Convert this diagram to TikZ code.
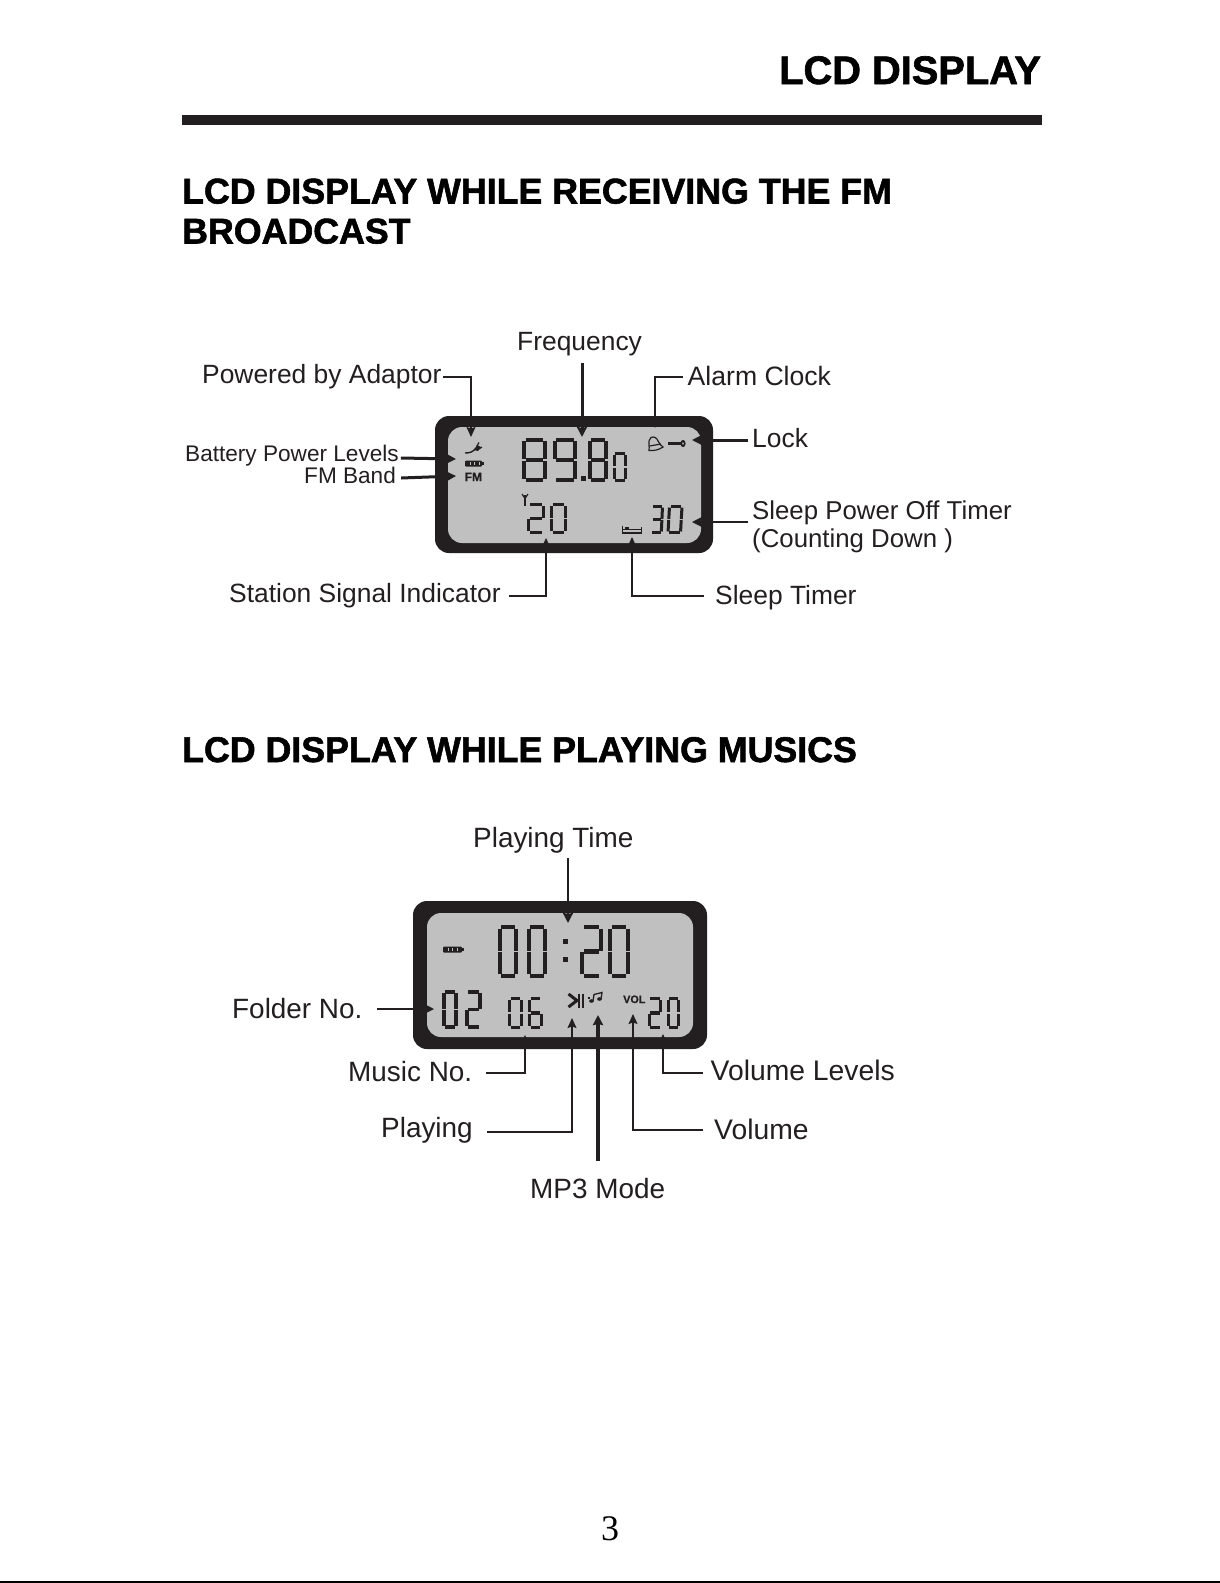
\documentclass[tikz,border=0pt]{standalone}
\usepackage{fontspec}
\usetikzlibrary{arrows.meta,calc}
\setmainfont{Liberation Sans}
\newfontfamily\hdfont[FakeBold=1.6]{Liberation Sans Bold}
\newfontfamily\iconfont[FakeBold=0.8]{Liberation Sans Bold}
\newfontfamily\pgfont{Liberation Serif}
\definecolor{ink}{HTML}{231F20}
\definecolor{lcdgray}{HTML}{C0C0C0}
\tikzset{
  lbl/.style={anchor=base west,inner sep=0pt,text=ink,font=\fontsize{26.4}{26.4}\selectfont,text height=19pt,text depth=5pt},
  lblb/.style={lbl,font=\fontsize{27.9}{27.9}\selectfont},
  lbls/.style={lbl,font=\fontsize{22.6}{22.6}\selectfont,text height=16pt,text depth=5pt},
  hd/.style={anchor=base west,inner sep=0pt,text=black,font=\hdfont\fontsize{39.8}{39.8}\selectfont},
  hds/.style={hd,font=\hdfont\fontsize{35.75}{35.75}\selectfont},
  wire/.style={draw=ink,line width=1.4pt},
  wirearrow/.style={wire,-{Stealth[length=10pt,width=9pt,inset=1.5pt]}},
  heavyarrow/.style={draw=ink,line width=3pt,-{Stealth[length=10pt,width=10pt,inset=1pt]}},
  bezel/.style={fill=ink,draw=none,rounded corners=14pt},
  screen/.style={fill=lcdgray,draw=none,rounded corners=14pt},
  seg/.style={draw=ink,line cap=butt},
  icon/.style={draw=ink,line width=1.2pt,fill=none},
}
% seven-segment digit: [slant] x0 y0 x1 y1 linewidth digit
\newcommand{\sgA}{\draw[seg] (.08,0)--(.92,0);}
\newcommand{\sgB}{\draw[seg] (1,.04)--(1,.48);}
\newcommand{\sgC}{\draw[seg] (1,.52)--(1,.96);}
\newcommand{\sgD}{\draw[seg] (.08,1)--(.92,1);}
\newcommand{\sgE}{\draw[seg] (0,.52)--(0,.96);}
\newcommand{\sgF}{\draw[seg] (0,.04)--(0,.48);}
\newcommand{\sgG}{\draw[seg] (.08,.5)--(.92,.5);}
\newcommand{\lcddig}[6][0]{%
  \begin{scope}[shift={(#2,#3)},xscale={#4-#2},yscale={#5-#3},xslant=#1,line width=#6pt]
  \lcdpat
  \end{scope}}
\newcommand{\dzero}[5][0]{\def\lcdpat{\sgA\sgB\sgC\sgD\sgE\sgF}\lcddig[#1]{#2}{#3}{#4}{#5}{\lw}}
\newcommand{\dtwo}[5][0]{\def\lcdpat{\sgA\sgB\sgG\sgE\sgD}\lcddig[#1]{#2}{#3}{#4}{#5}{\lw}}
\newcommand{\dthree}[5][0]{\def\lcdpat{\sgA\sgB\sgG\sgC\sgD}\lcddig[#1]{#2}{#3}{#4}{#5}{\lw}}
\newcommand{\dsix}[5][0]{\def\lcdpat{\sgA\sgF\sgG\sgC\sgD\sgE}\lcddig[#1]{#2}{#3}{#4}{#5}{\lw}}
\newcommand{\deight}[5][0]{\def\lcdpat{\sgA\sgB\sgC\sgD\sgE\sgF\sgG}\lcddig[#1]{#2}{#3}{#4}{#5}{\lw}}
\newcommand{\dnine}[5][0]{\def\lcdpat{\sgA\sgB\sgC\sgD\sgF\sgG}\lcddig[#1]{#2}{#3}{#4}{#5}{\lw}}
\begin{document}
\begin{tikzpicture}[x=1pt,y=-1pt]
\useasboundingbox (0,0) rectangle (1220,1583);
\fill[white] (0,0) rectangle (1220,1583);
% page header
\node[hd] (title) at (779,84) {LCD DISPLAY};
\fill[ink] (182,115) rectangle (1042,124.5);
\node[hds] (h1a) at (182,203.5) {LCD DISPLAY WHILE RECEIVING THE FM};
\node[hds] (h1b) at (182,243.5) {BROADCAST};
\node[hds] (h2) at (182,762) {LCD DISPLAY WHILE PLAYING MUSICS};
\node[anchor=base,inner sep=0pt,font=\pgfont\fontsize{36}{36}\selectfont,text=black] (pg) at (610,1540) {3};
\fill[black] (0,1581) rectangle (1220,1583);

% ---------- first LCD ----------
\fill[bezel] (435,416) rectangle (713,553);
\fill[screen] (448,427) rectangle (701,543);
\def\lw{3.6}
\deight{523.8}{439.8}{545.2}{480.2}
\dnine{554.8}{439.8}{575.2}{480.2}
\fill[ink] (581,475.5) rectangle (585.5,480.5);
\deight{589.8}{439.8}{606.2}{480.2}
\def\lw{2.8}
\dzero{614.5}{453.5}{625.5}{480.5}
\def\lw{3.4}
\dtwo{528.7}{504.7}{543.3}{532.3}
\dzero{551.7}{504.7}{565.3}{532.3}
\def\lw{3}
\dthree[.12]{652.5}{506.5}{662.5}{532.5}
\dzero[.12]{669.5}{506.5}{682}{532.5}
% adaptor icon
\draw[icon,line width=1.4pt] (465,453) .. controls (470,453) and (473,452) .. (476,448);
\fill[ink] (474,450) -- (477,445) -- (481,447) -- (478,451) -- cycle;
\draw[icon] (477,446) -- (479,442.5);
\draw[icon] (479,449) -- (482,447);
% battery icon
\fill[ink,rounded corners=1pt] (465,460.5) rectangle (482,466.5);
\fill[ink] (482,462) rectangle (484,465);
\foreach \bx in {469.5,474,478.5}{\fill[lcdgray] (\bx,462.4) rectangle ++(.8,2.2);}
\node[anchor=base west,inner sep=0pt,font=\iconfont\fontsize{12}{12}\selectfont,text=ink] (fmtxt) at (464.5,481) {FM};
% antenna
\draw[icon] (525,495) -- (525,506);
\draw[icon] (522,494) -- (525,498.5) -- (528,494);
% bell
\draw[icon] (651,437.5) .. controls (654,436) and (657,438) .. (658,441) .. controls (659,444) and (661,445) .. (663,447) .. controls (659,450) and (653,451) .. (649,450.5) .. controls (650,447) and (647,441) .. (651,437.5) -- cycle;
\draw[icon] (649.5,446) -- (661,444);
% key
\draw[ink,line width=2.4pt] (668,443.5) -- (681,443.5);
\fill[ink] (683,443.5) ellipse (2.6 and 3.6);
\fill[lcdgray] (683,443.5) ellipse (.8 and 1.4);
% bed
\draw[icon] (622.5,525.5) -- (622.5,534);
\draw[icon] (641.5,526.5) -- (641.5,534);
\draw[icon] (622.5,529.5) -- (641.5,529.5);
\draw[icon] (622.5,533) -- (641.5,533);
\fill[ink] (625,526.5) rectangle (629,530);

% labels, first diagram
\node[lbl] (adapt) at (202,383) {Powered by Adaptor};
\node[lbl] (freq) at (517,350) {Frequency};
\node[lbl,font=\fontsize{26.6}{26.6}\selectfont] (alarm) at (687.5,385) {Alarm Clock};
\node[lbl] (lock) at (752,447) {Lock};
\node[lbls] (batt) at (185,461) {Battery Power Levels};
\node[lbls] (fmband) at (304,483) {FM Band};
\node[lbl,font=\fontsize{25.8}{25.8}\selectfont] (sleepoff) at (752,519) {Sleep Power Off Timer};
\node[lbl,font=\fontsize{25.8}{25.8}\selectfont] (count) at (752,547) {(Counting Down )};
\node[lbl] (station) at (229,602) {Station Signal Indicator};
\node[lbl] (sleept) at (715,604) {Sleep Timer};

\coordinate (tAdapt) at (471,437);
\coordinate (tFreq) at (582,437);
\coordinate (tAlarm) at (655,428);
\coordinate (tLock) at (692,440);
\coordinate (tBatt) at (456,459);
\coordinate (tFm) at (456,476);
\coordinate (tOff) at (692,522);
\coordinate (tStation) at (546,538);
\coordinate (tSleep) at (632,537);

\draw[wirearrow] ([shift={(1.5,1)}]adapt.east) -| (tAdapt);
\draw[heavyarrow] (tFreq |- 0,363) -- (tFreq);
\draw[wirearrow] ([shift={(-5,-1)}]alarm.west) -| (tAlarm);
\draw[heavyarrow] ([shift={(-4,0)}]lock.west) -- (tLock);
\draw[heavyarrow] ([shift={(2,2.5)}]batt.east) -- (tBatt);
\draw[heavyarrow] ([shift={(5,0.5)}]fmband.east) -- (tFm);
\draw[heavyarrow,line width=2pt] ([shift={(-4,10)}]sleepoff.west) -- (tOff);
\draw[wirearrow] ([shift={(8,1)}]station.east) -| (tStation);
\draw[wirearrow] ([shift={(-11,-1)}]sleept.west) -| (tSleep);

% ---------- second LCD ----------
\fill[bezel] (413,901) rectangle (707,1049);
\fill[screen] (427,913) rectangle (693,1037);
\def\lw{4.2}
\dzero{500.1}{927.1}{515.9}{975.9}
\dzero{529.1}{927.1}{544.9}{975.9}
\dtwo{582.1}{927.1}{600.9}{975.9}
\dzero{610.1}{927.1}{627.9}{975.9}
\fill[ink] (562.5,939) rectangle (567.5,944);
\fill[ink] (562.5,957) rectangle (567.5,962);
\def\lw{3.6}
\dzero{443.8}{991.8}{456.2}{1027.2}
\dtwo{466.8}{991.8}{480.2}{1027.2}
\def\lw{3.1}
\dzero{509.6}{998.6}{521.4}{1027.4}
\dsix{529.6}{998.6}{541.4}{1027.4}
\dtwo{649.6}{998.6}{660.4}{1027.4}
\dzero{668.6}{998.6}{678.4}{1027.4}
\fill[ink,rounded corners=1pt] (443,946.5) rectangle (462,952.5);
\foreach \bx in {447.5,452,456.5}{\fill[lcdgray] (\bx,948.4) rectangle ++(.8,2.2);}
\fill[ink] (462,948) rectangle (464,951);
% play/pause
\draw[ink,line width=3pt] (568.5,994) -- (577,1000.5) -- (568.5,1007);
\fill[ink] (577.5,993.5) rectangle (580,1007.5);
\fill[ink] (581.5,993.5) rectangle (584,1007.5);
% note
\draw[icon,line width=1.3pt] (593,1001) -- (594,994.5) -- (602,992.5) -- (601,999);
\fill[ink] (591.5,1001) ellipse (2.4 and 1.8);
\fill[ink] (599.5,999) ellipse (2.4 and 1.8);
\draw[ink,line width=1.6pt] (587.5,998) -- (590,998);
\node[anchor=base west,inner sep=0pt,font=\iconfont\fontsize{10.8}{10.8}\selectfont,text=ink] (voltxt) at (623,1003) {VOL};

\node[lblb] (ptime) at (473,847) {Playing Time};
\node[lblb] (folder) at (232,1018) {Folder No.};
\node[lblb] (music) at (348,1081) {Music No.};
\node[lblb] (playing) at (381,1137) {Playing};
\node[lblb] (mp3) at (530,1198) {MP3 Mode};
\node[lblb,font=\fontsize{28.3}{28.3}\selectfont] (vollev) at (710.5,1080) {Volume Levels};
\node[lblb,font=\fontsize{28.3}{28.3}\selectfont] (vol) at (714,1139) {Volume};

\coordinate (tTime) at (568,923);
\coordinate (tFolder) at (434,1009);
\coordinate (tMusic) at (525,1035);
\coordinate (tPlay) at (572,1018);
\coordinate (tMp3) at (598,1015);
\coordinate (tLev) at (663,1034);
\coordinate (tVol) at (633,1014);

\draw[heavyarrow,line width=2.5pt] (tTime |- 0,858) -- (tTime);
\draw[heavyarrow,line width=1.8pt] ([shift={(14,-2)}]folder.east) -- (tFolder);
\draw[wirearrow,line width=1.6pt] ([shift={(14,-1)}]music.east) -| (tMusic);
\draw[wirearrow] ([shift={(14,2)}]playing.east) -| (tPlay);
\draw[heavyarrow,line width=3.4pt] (tMp3 |- 0,1161) -- (tMp3);
\draw[wirearrow,line width=1.6pt] ([shift={(-7.5,0)}]vollev.west) -| (tLev);
\draw[wirearrow] ([shift={(-11,-2)}]vol.west) -| (tVol);
\end{tikzpicture}
\end{document}
